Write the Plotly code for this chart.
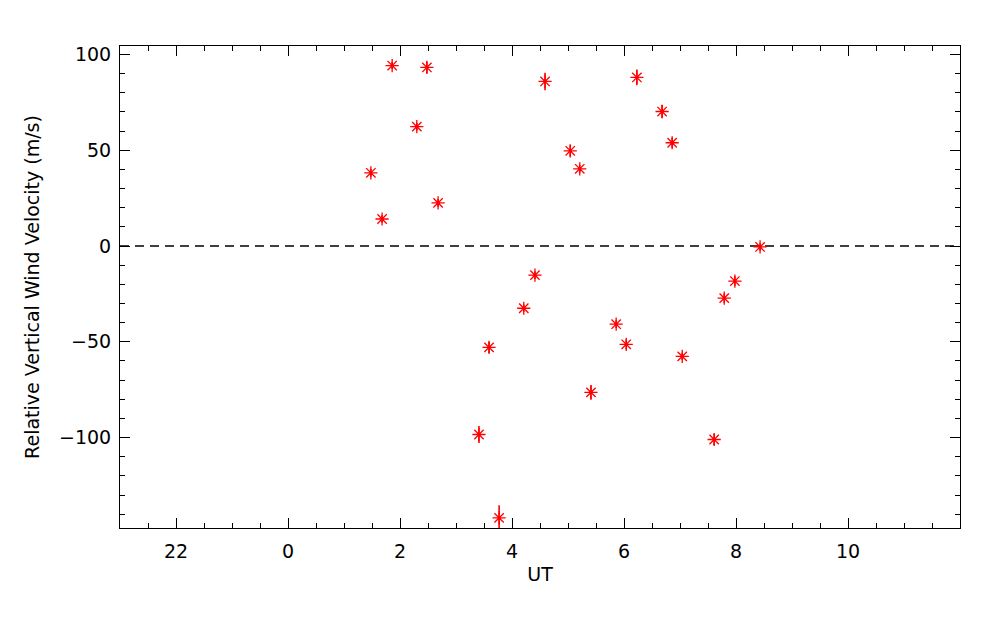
import plotly.graph_objects as go

ut_hours = [1.48, 1.68, 1.86, 2.30, 2.48, 2.68, 3.41, 3.59, 3.77, 4.21, 4.41, 4.59,
            5.04, 5.21, 5.41, 5.86, 6.04, 6.23, 6.68, 6.86, 7.04, 7.61, 7.79, 7.98, 8.43]
velocity = [38.2, 14.1, 94.2, 62.3, 93.2, 22.5, -98.4, -52.9, -141.9, -32.5, -15.2, 85.9,
            49.7, 40.3, -76.4, -40.8, -51.3, 88.0, 70.2, 53.9, -57.6, -101.0, -27.2, -18.3, -0.5]
velocity_err = [2, 2, 2, 2, 3, 2, 4.4, 2.9, 6.6, 2, 2, 4.6,
                3, 2, 3.9, 2, 2.5, 4.1, 3.5, 2.6, 2, 3, 2.5, 2.5, 2]

x_tickvals = [-2, 0, 2, 4, 6, 8, 10]
x_ticktext = ["22", "0", "2", "4", "6", "8", "10"]
y_tickvals = [-100, -50, 0, 50, 100]

fig = go.Figure()

fig.add_trace(go.Scatter(
    x=[-3, 12], y=[0, 0], mode="lines",
    line=dict(color="black", width=1.5, dash="9px,6px"),
    hoverinfo="skip", showlegend=False))

fig.add_trace(go.Scatter(
    x=ut_hours, y=velocity, mode="markers",
    marker=dict(symbol="asterisk-open", size=11, color="red",
                line=dict(color="red", width=1.3)),
    error_y=dict(type="data", array=velocity_err, visible=True,
                 color="red", thickness=1.6, width=0),
    showlegend=False))

font = dict(family="DejaVu Sans, Liberation Sans, sans-serif", size=19, color="black")

fig.update_layout(
    width=1000, height=625,
    margin=dict(l=112, r=48, t=38, b=105),
    paper_bgcolor="white", plot_bgcolor="white",
    font=font,
    xaxis=dict(range=[-3, 12], tickvals=x_tickvals, ticktext=x_ticktext,
               ticks="inside", ticklen=10, tickwidth=1, tickcolor="black",
               showline=True, linecolor="black", linewidth=1, mirror="allticks",
               showgrid=False, zeroline=False, ticklabelstandoff=6,
               minor=dict(dtick=0.5, ticks="inside", ticklen=5, tickwidth=1,
                          tickcolor="black", showgrid=False),
               title=dict(text="UT", font=font, standoff=6)),
    yaxis=dict(range=[-147.2, 104.4], tickvals=y_tickvals,
               ticks="inside", ticklen=10, tickwidth=1, tickcolor="black",
               showline=True, linecolor="black", linewidth=1, mirror="allticks",
               showgrid=False, zeroline=False, ticklabelstandoff=4,
               minor=dict(dtick=10, ticks="inside", ticklen=5, tickwidth=1,
                          tickcolor="black", showgrid=False),
               title=dict(text="Relative Vertical Wind Velocity (m/s)", font=font, standoff=14)),
)

fig.write_html("out.html")
